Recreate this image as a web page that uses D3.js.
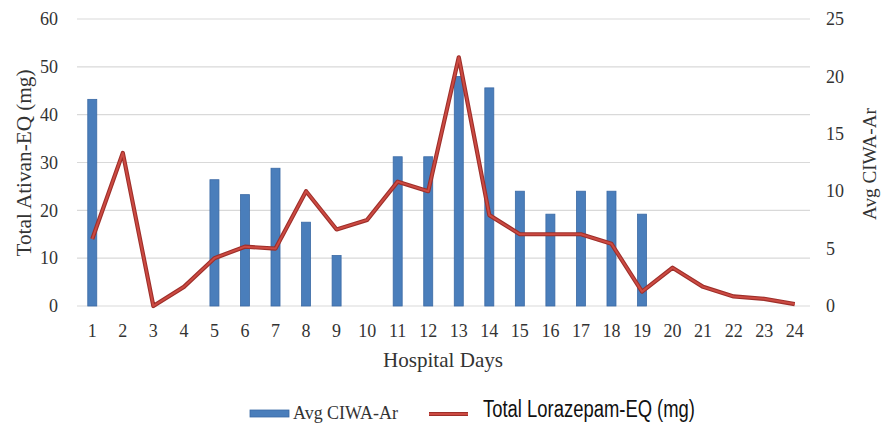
<!DOCTYPE html>
<html>
<head>
<meta charset="utf-8">
<script src="https://cdn.jsdelivr.net/npm/d3@7"></script>
<style>
  body { margin: 0; background: #fff; }
  svg { display: block; }
</style>
</head>
<body>
<svg id="chart" width="885" height="427"></svg>
<script>
// data
const days = d3.range(1, 25).map(String);
const ciwa = [18, null, null, null, 11, 9.7, 12, 7.3, 4.4, null, 13, 13, 20, 19, 10, 8, 10, 10, 8, null, null, null, null, null];
const lorazepam = [14, 32, 0, 4, 10, 12.4, 12, 24, 16, 18, 26, 24, 52, 19, 15, 15, 15, 13, 3, 8, 4, 2, 1.5, 0.4];
const leftTicks = [0, 10, 20, 30, 40, 50, 60];
const rightTicks = [0, 5, 10, 15, 20, 25];

const serif = "'Liberation Serif', 'DejaVu Serif', serif";
const svg = d3.select("#chart");
const m = { left: 77, right: 810, top: 19, bottom: 306 };

const x = d3.scaleBand().domain(days).range([m.left, m.right]);
const yL = d3.scaleLinear().domain([0, 60]).range([m.bottom, m.top]);
const yR = d3.scaleLinear().domain([0, 25]).range([m.bottom, m.top]);

// grid
svg.append("g").selectAll("line").data(leftTicks).join("line")
  .attr("x1", m.left).attr("x2", m.right)
  .attr("y1", d => yL(d)).attr("y2", d => yL(d))
  .attr("stroke", "#d9d9d9").attr("stroke-width", 1.2);

// axes (labels only)
const left = svg.append("g").attr("transform", `translate(${m.left - 6},0)`)
  .call(d3.axisLeft(yL).tickValues(leftTicks).tickSize(0).tickPadding(13));
const right = svg.append("g").attr("transform", `translate(${m.right + 6},0)`)
  .call(d3.axisRight(yR).tickValues(rightTicks).tickSize(0).tickPadding(10));
const bottom = svg.append("g").attr("transform", `translate(0,${m.bottom})`)
  .call(d3.axisBottom(x).tickSize(0).tickPadding(18));
[left, right, bottom].forEach(a => {
  a.select(".domain").remove();
  a.selectAll("text").attr("font-family", serif).attr("font-size", 18).attr("fill", "#333");
});

// bars
const bw = 9;
svg.append("g").selectAll("rect").data(days.map((d, i) => ({ d, v: ciwa[i] })).filter(o => o.v != null))
  .join("rect")
  .attr("x", o => x(o.d) + x.bandwidth() / 2 - bw / 2)
  .attr("y", o => yR(o.v))
  .attr("width", bw)
  .attr("height", o => yR(0) - yR(o.v))
  .attr("fill", "#4a7ebb")
  .attr("stroke", "#3b6aa5").attr("stroke-width", 0.8);

// line
const line = d3.line()
  .x((v, i) => x(days[i]) + x.bandwidth() / 2)
  .y(v => yL(v));
svg.append("path").datum(lorazepam).attr("d", line)
  .attr("fill", "none").attr("stroke", "#9e2f2a").attr("stroke-width", 4.2).attr("stroke-linejoin", "round");
svg.append("path").datum(lorazepam).attr("d", line)
  .attr("fill", "none").attr("stroke", "#cc4a42").attr("stroke-width", 2).attr("stroke-linejoin", "round");

// axis titles
svg.append("text").attr("transform", "translate(31,163) rotate(-90)")
  .attr("text-anchor", "middle").attr("font-family", serif).attr("font-size", 21).attr("fill", "#333")
  .attr("textLength", 187).attr("lengthAdjust", "spacingAndGlyphs")
  .text("Total Ativan-EQ (mg)");
svg.append("text").attr("transform", "translate(876,164) rotate(-90)")
  .attr("text-anchor", "middle").attr("font-family", serif).attr("font-size", 19).attr("fill", "#333")
  .attr("textLength", 112).attr("lengthAdjust", "spacingAndGlyphs")
  .text("Avg CIWA-Ar");
svg.append("text").attr("x", 443).attr("y", 367)
  .attr("text-anchor", "middle").attr("font-family", serif).attr("font-size", 21).attr("fill", "#333")
  .attr("textLength", 120).attr("lengthAdjust", "spacingAndGlyphs")
  .text("Hospital Days");

// legend
const lg = svg.append("g");
lg.append("rect").attr("x", 250).attr("y", 410).attr("width", 39).attr("height", 7)
  .attr("fill", "#4a7ebb").attr("stroke", "#3b6aa5").attr("stroke-width", 0.8);
lg.append("text").attr("x", 293).attr("y", 419).attr("font-family", serif).attr("font-size", 18).attr("fill", "#333")
  .attr("textLength", 105).attr("lengthAdjust", "spacingAndGlyphs")
  .text("Avg CIWA-Ar");
lg.append("line").attr("x1", 429).attr("x2", 468).attr("y1", 414).attr("y2", 414)
  .attr("stroke", "#9e2f2a").attr("stroke-width", 4.2);
lg.append("line").attr("x1", 429).attr("x2", 468).attr("y1", 414).attr("y2", 414)
  .attr("stroke", "#cc4a42").attr("stroke-width", 2);
lg.append("text").attr("x", 483).attr("y", 417)
  .attr("font-family", "'Liberation Sans', Arial, sans-serif")
  .attr("font-size", 23).attr("fill", "#111")
  .attr("textLength", 212).attr("lengthAdjust", "spacingAndGlyphs")
  .text("Total Lorazepam-EQ (mg)");
</script>
</body>
</html>
